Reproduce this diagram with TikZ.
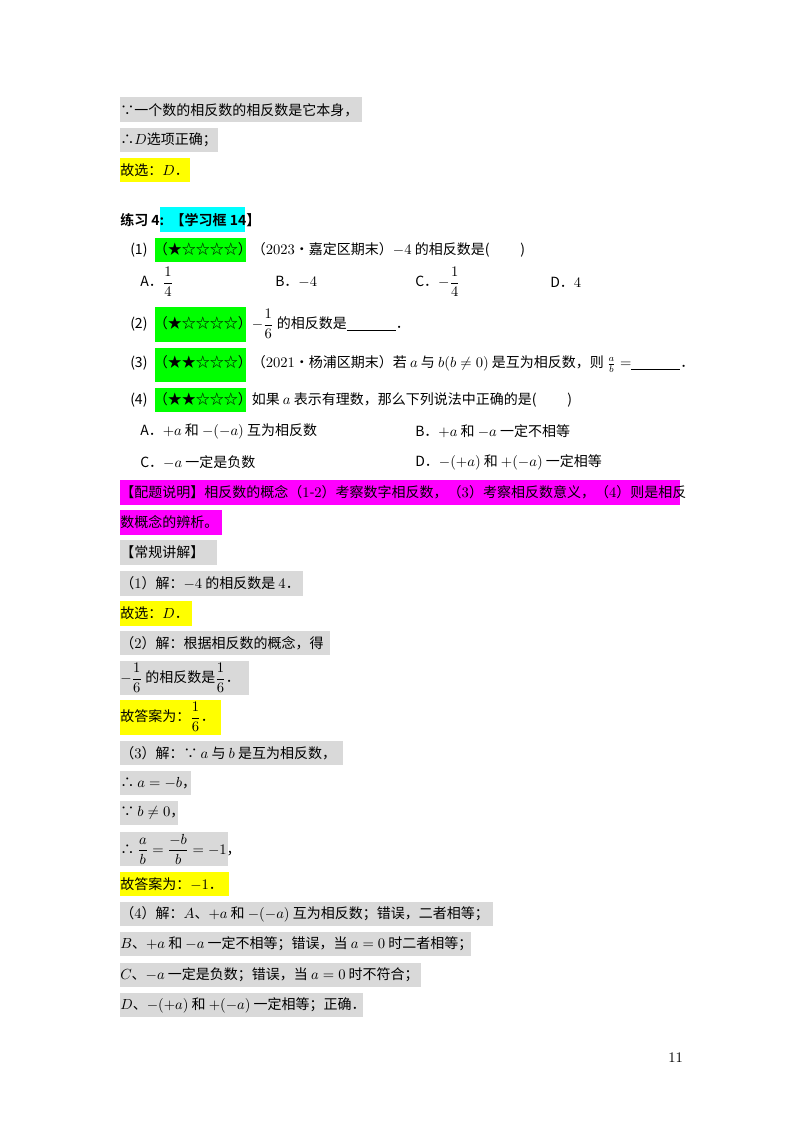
\documentclass[tikz,border=0pt]{standalone}
\usepackage{fontspec}
\setmainfont{Noto Sans CJK SC}[BoldFont={Noto Sans CJK SC Bold}]
\definecolor{hlgray}{RGB}{217,217,217}
\definecolor{hlgreen}{RGB}{0,255,0}
\definecolor{hlcyan}{RGB}{0,255,255}
\definecolor{hlpink}{RGB}{255,0,255}
\definecolor{hlyellow}{RGB}{255,255,0}
\newcommand{\dfr}[2]{{\displaystyle\frac{#1}{#2}}}
\tikzset{
  txt/.style={anchor=west,inner sep=0pt,font=\fontsize{10.5pt}{12pt}\selectfont},
}
\begin{document}
\begin{tikzpicture}[x=0.75pt,y=-0.75pt]
\useasboundingbox (0,0) rectangle (800,1132);
% highlights
\fill[hlgray] (120,97) rectangle (362,122);
\fill[hlgray] (120,128) rectangle (218,152);
\fill[hlyellow] (120,158) rectangle (190,182);
\fill[hlcyan] (160,207) rectangle (245,232);
\fill[hlgreen] (155,238) rectangle (246,262);
\fill[hlgreen] (155,307) rectangle (246,342);
\fill[hlgreen] (155,348) rectangle (246,382);
\fill[hlgreen] (155,388) rectangle (246,412);
\fill[hlpink] (120,480) rectangle (680,505);
\fill[hlpink] (120,510) rectangle (222,535);
\fill[hlgray] (120,540) rectangle (217,565);
\fill[hlgray] (120,571) rectangle (303,596);
\fill[hlyellow] (120,601) rectangle (192,626);
\fill[hlgray] (120,631) rectangle (330,655);
\fill[hlgray] (120,661) rectangle (249,695);
\fill[hlyellow] (120,700) rectangle (221,735);
\fill[hlgray] (120,741) rectangle (343,765);
\fill[hlgray] (120,771) rectangle (191,795);
\fill[hlgray] (120,801) rectangle (178,825);
\fill[hlgray] (120,832) rectangle (228,866);
\fill[hlyellow] (120,872) rectangle (229,896);
\fill[hlgray] (120,902) rectangle (493,926);
\fill[hlgray] (120,932) rectangle (471,956);
\fill[hlgray] (120,963) rectangle (421,987);
\fill[hlgray] (120,993) rectangle (363,1017);

% texts
\node[txt] (l1) at (120,110) {∵一个数的相反数的相反数是它本身，};
\node[txt] (l2) at (120,140) {∴$D$选项正确；};
\node[txt] (l3) at (120,170) {故选：$D$．};
\node[txt] (ex) at (120,220) {\bfseries 练习 $\mathbf{4}$:\ \ 【学习框 $\mathbf{14}$】};
\node[txt] (q1) at (130,250) {(1)\ \ （★☆☆☆☆）（$2023$•嘉定区期末）$-4$ 的相反数是(\hspace{2.2em})};
\node[txt] (q1a) at (140,282) {A．$\dfr{1}{4}$};
\node[txt] (q1b) at (275,282) {B．$-4$};
\node[txt] (q1c) at (415,282) {C．$-\dfr{1}{4}$};
\node[txt] (q1d) at (550,282) {D．$4$};
\node[txt] (q2) at (130,324) {(2)\ \ （★☆☆☆☆）$-\dfr{1}{6}$ 的相反数是\underline{\hspace{3.5em}}．};
\node[txt] (q3) at (130,364) {(3)\ \ （★★☆☆☆）（$2021$•杨浦区期末）若 $a$ 与 $b(b\neq0)$ 是互为相反数，则 $\frac{a}{b}=$\underline{\hspace{3.5em}}．};
\node[txt] (q4) at (130,400) {(4)\ \ （★★☆☆☆）如果 $a$ 表示有理数，那么下列说法中正确的是(\hspace{2.2em})};
\node[txt] (q4a) at (140,431) {A．$+a$ 和 $-(-a)$ 互为相反数};
\node[txt] (q4b) at (415,431) {B．$+a$ 和 $-a$ 一定不相等};
\node[txt] (q4c) at (140,462) {C．$-a$ 一定是负数};
\node[txt] (q4d) at (415,462) {D．$-(+a)$ 和 $+(-a)$ 一定相等};
\node[txt] (pz1) at (120,492) {【配题说明】相反数的概念（$1$-$2$）考察数字相反数，（$3$）考察相反数意义，（$4$）则是相反};
\node[txt] (pz2) at (120,522) {数概念的辨析。};
\node[txt] (cg) at (120,552) {【常规讲解】};
\node[txt] (s1) at (120,583) {（$1$）解：$-4$ 的相反数是 $4$．};
\node[txt] (s1d) at (120,613) {故选：$D$．};
\node[txt] (s2) at (120,643) {（$2$）解：根据相反数的概念，得};
\node[txt] (s2a) at (120,678) {$-\dfr{1}{6}$ 的相反数是$\dfr{1}{6}$．};
\node[txt] (s2d) at (120,717) {故答案为：$\dfr{1}{6}$．};
\node[txt] (s3) at (120,753) {（$3$）解：∵ $a$ 与 $b$ 是互为相反数，};
\node[txt] (s3a) at (120,783) {∴ $a=-b$，};
\node[txt] (s3b) at (120,813) {∵ $b\neq0$，};
\node[txt] (s3c) at (120,849) {∴ $\dfr{a}{b}=\dfr{-b}{b}=-1$，};
\node[txt] (s3d) at (120,884) {故答案为：$-1$．};
\node[txt] (s4a) at (120,914) {（$4$）解：$A$、$+a$ 和 $-(-a)$ 互为相反数；错误，二者相等；};
\node[txt] (s4b) at (120,944) {$B$、$+a$ 和 $-a$ 一定不相等；错误，当 $a=0$ 时二者相等；};
\node[txt] (s4c) at (120,975) {$C$、$-a$ 一定是负数；错误，当 $a=0$ 时不符合；};
\node[txt] (s4d) at (120,1005) {$D$、$-(+a)$ 和 $+(-a)$ 一定相等；正确．};
\node[txt] (pg) at (668,1058) {$11$};
\end{tikzpicture}
\end{document}
